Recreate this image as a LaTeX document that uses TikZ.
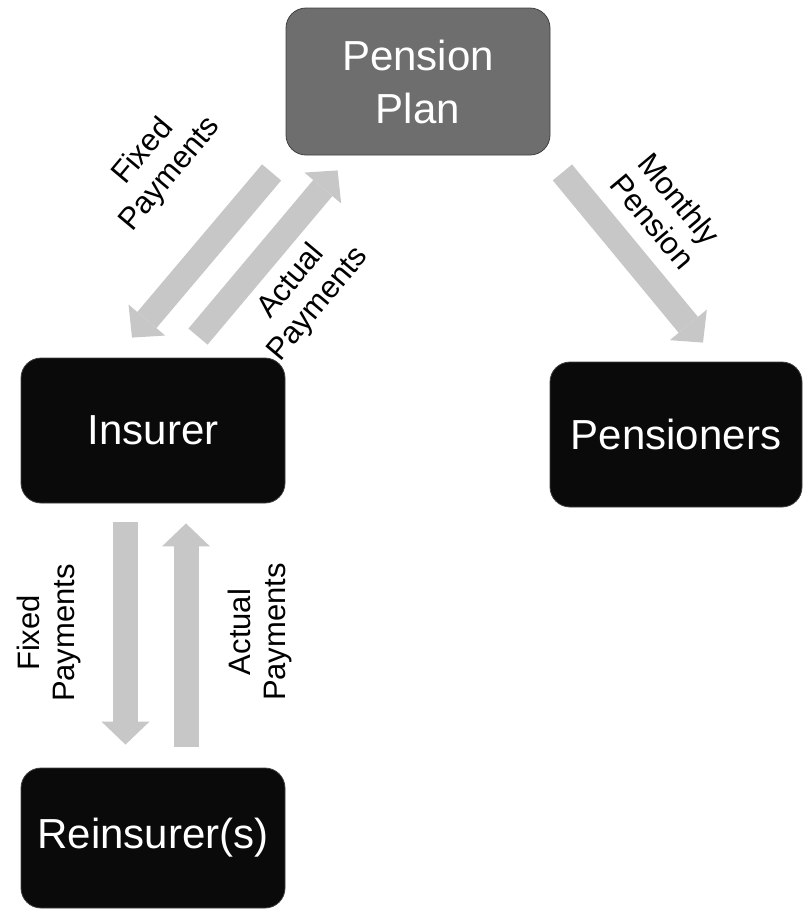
\documentclass[tikz,border=0pt]{standalone}
\usepackage{fontspec}
\setmainfont{Liberation Sans}
\usetikzlibrary{positioning,calc,arrows.meta}

\begin{document}
\begin{tikzpicture}[x=0.5pt,y=-0.5pt,on grid,
		box node/.style={rectangle,rounded corners=10pt,draw=black!75,thin,text=white,inner sep=0pt,align=center,minimum width=132pt,minimum height=72.5pt,font=\fontsize{21}{26.5}\selectfont},
		plan node/.style={box node,fill=black!57},
		main node/.style={box node,fill=black!96},
		flow arrow/.style={draw=black!22,line width=12.5pt,-{Triangle[width=24pt,length=11.5pt,line width=0pt]}},
		flow label/.style={align=center,font=\fontsize{15.5}{17.5}\selectfont}]
		\useasboundingbox (0,0) rectangle (804,911);
		
		\node[plan node,minimum height=73.5pt] (1) at (418,81.5) {Pension\\Plan};
		\node[main node] (2) [below left=174.5pt and 132.5pt of 1] {Insurer};
		\node[main node,minimum width=126pt] (3) [below right=176.5pt and 129pt of 1] {Pensioners};
		\node[main node,minimum height=70pt] (4) [below=203.75pt of 2] {Reinsurer(s)};
		
		% flows between plan, insurer and pensioners
		\draw[flow arrow] ($(1.south west)+(-14,17)$) -- ($(2.north)+(-21,-20)$);
		\draw[flow arrow] ($(2.north)+(45,-21)$) -- ($(1.south west)+(52,15)$);
		\draw[flow arrow] ($(1.south east)+(12,17)$) -- ($(3.north)+(27,-19)$);
		% flows between insurer and reinsurer
		\draw[flow arrow] ($(2.south)+(-27.5,19)$) -- ($(4.north)+(-27.5,-23)$);
		\draw[flow arrow] ($(4.north)+(33,-21)$) -- ($(2.south)+(33,20)$);
		
		\node[flow label,rotate=50] (5) at (157,163) {Fixed\\Payments};
		\node[flow label,rotate=50] (6) at (305,293) {Actual\\Payments};
		\node[flow label,rotate=-50] (7) at (666,210) {Monthly\\Pension};
		\node[flow label,rotate=90] (8) at (49,633) {Fixed\\Payments};
		\node[flow label,rotate=90] (9) at (260,632) {Actual\\Payments};
	\end{tikzpicture}
\end{document}
